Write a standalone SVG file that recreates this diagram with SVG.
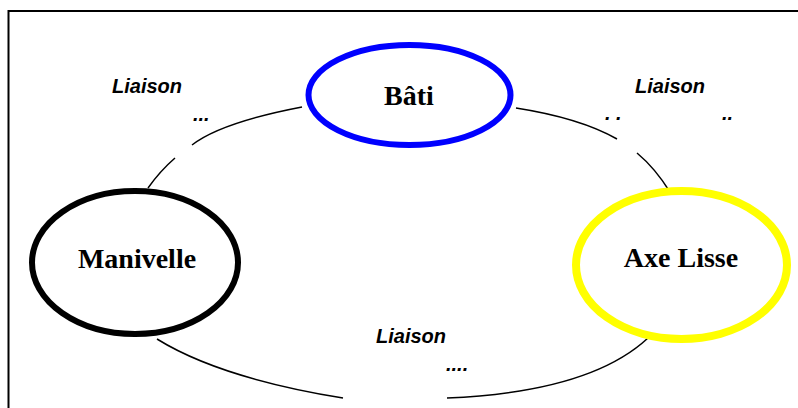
<svg xmlns="http://www.w3.org/2000/svg" width="798" height="408" viewBox="0 0 798 408">
<style>
.node{fill:#fff}
.lbl{font-family:"Liberation Serif","Times New Roman",serif;font-weight:bold;font-size:28px;text-anchor:middle;fill:#000}
.li{font-family:"Liberation Sans",Arial,sans-serif;font-weight:bold;font-style:italic;font-size:20px;fill:#000}
.c{fill:none;stroke:#000;stroke-width:1.5}
</style>
<rect x="0" y="0" width="798" height="408" fill="#fff"/>
<rect x="8.5" y="11" width="800" height="410" fill="none" stroke="#000" stroke-width="2"/>
<g id="connectors">
<path class="c" d="M302,107 Q221,122.5 192,145"/>
<path class="c" d="M175,158 Q160,171 148,188"/>
<path class="c" d="M516,108 Q580,118 617,139"/>
<path class="c" d="M637,153 Q655,168 670,192"/>
<path class="c" d="M157,339 Q220,378 343,398"/>
<path class="c" d="M447,398 Q590,392 648,338"/>
</g>
<g id="labels">
<text class="li" x="112" y="93">Liaison</text>
<text class="li" x="193" y="121">...</text>
<text class="li" x="635" y="93">Liaison</text>
<text class="li" x="605" y="120">. .</text>
<text class="li" x="722" y="120">..</text>
<text class="li" x="376" y="343">Liaison</text>
<text class="li" x="446" y="371">....</text>
</g>
<g id="bati">
<ellipse class="node" cx="409.5" cy="95" rx="101" ry="50" stroke="#0000FF" stroke-width="6"/>
<text class="lbl" x="409" y="105">Bâti</text>
</g>
<g id="manivelle">
<ellipse class="node" cx="135" cy="262.5" rx="103" ry="71.5" stroke="#000" stroke-width="6"/>
<text class="lbl" x="137" y="268">Manivelle</text>
</g>
<g id="axe-lisse">
<ellipse class="node" cx="681.5" cy="265" rx="105.5" ry="74" stroke="#FFFF00" stroke-width="8"/>
<text class="lbl" x="681" y="267">Axe Lisse</text>
</g>
</svg>
